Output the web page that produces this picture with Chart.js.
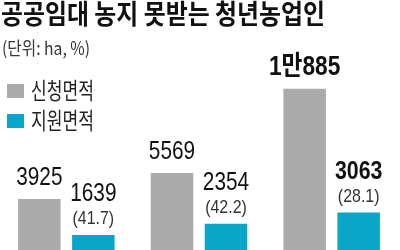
<!DOCTYPE html>
<html>
<head>
<meta charset="utf-8">
<script src="https://cdn.jsdelivr.net/npm/chart.js@4.4.1/dist/chart.umd.min.js"></script>
<style>
  html, body { margin: 0; padding: 0; background: #fff; width: 400px; height: 250px; overflow: hidden; }
  #wrap { position: relative; width: 400px; height: 261px; }
</style>
</head>
<body>
<div id="wrap"><canvas id="c"></canvas></div>
<script>
// ---- data ----
const categories = ['1', '2', '3'];
const appliedArea = [3925, 5569, 10885];      // 신청면적 (ha)
const supportedArea = [1639, 2354, 3063];     // 지원면적 (ha)
const supportRate = [41.7, 42.2, 28.1];       // 지원 비율 (%)
const appliedLabels = ['3925', '5569', '1만885'];
const supportedLabels = ['1639', '2354', '3063'];
const boldGroup = [false, false, true];
const seriesNames = ['신청면적', '지원면적'];
const titleText = '공공임대 농지 못받는 청년농업인';
const unitText = '(단위: ha, %)';

const GRAY = '#aaaaaa';
const TEAL = '#0aa6c9';

function drawText(ctx, text, x, y, font, color, align, sx, targetW) {
  ctx.save();
  ctx.font = font;
  ctx.fillStyle = color;
  ctx.textBaseline = 'alphabetic';
  ctx.textAlign = align;
  const w = ctx.measureText(text).width;
  const s = targetW ? targetW / w : sx;
  ctx.translate(x, y);
  ctx.scale(s, 1);
  ctx.fillText(text, 0, 0);
  ctx.restore();
}

const NUMFONT = '"Liberation Sans", "Noto Sans CJK KR", Arial, sans-serif';
const KRFONT = '"Noto Sans CJK KR", "Noto Sans", sans-serif';

const labelPlugin = {
  id: 'labels',
  afterDatasetsDraw(chart) {
    const ctx = chart.ctx;
    const m0 = chart.getDatasetMeta(0);
    const m1 = chart.getDatasetMeta(1);
    m0.data.forEach((bar, i) => {
      const f = boldGroup[i] ? 'bold 27px ' + NUMFONT : '26px ' + NUMFONT;
      drawText(ctx, appliedLabels[i], bar.x, bar.y - 14, f, '#111', 'center', boldGroup[i] ? 0.84 : 0.8);
    });
    m1.data.forEach((bar, i) => {
      const f = boldGroup[i] ? 'bold 26px ' + NUMFONT : '26px ' + NUMFONT;
      drawText(ctx, supportedLabels[i], bar.x, bar.y - 34, f, '#111', 'center', boldGroup[i] ? 0.82 : 0.8);
      drawText(ctx, '(' + supportRate[i].toFixed(1) + ')', bar.x, bar.y - 11,
        '19px ' + NUMFONT, '#333', 'center', 0.84);
    });
    // title + unit
    drawText(ctx, titleText, 1, 24, 'bold 27px ' + KRFONT, '#111', 'left', 1, 324);
    drawText(ctx, unitText, 2, 55, '18px ' + KRFONT, '#333', 'left', 1, 88);
    // legend
    const items = [[GRAY, 84], [TEAL, 114]];
    items.forEach((it, k) => {
      ctx.save();
      ctx.fillStyle = it[0];
      ctx.fillRect(7, it[1], 17, 14);
      ctx.restore();
      drawText(ctx, seriesNames[k], 31, it[1] + 15, '23px ' + KRFONT, '#222', 'left', 1, 63);
    });
  }
};

new Chart(document.getElementById('c'), {
  type: 'bar',
  data: {
    labels: categories,
    datasets: [
      { label: seriesNames[0], data: appliedArea, backgroundColor: GRAY,
        categoryPercentage: 0.814, barPercentage: 0.787 },
      { label: seriesNames[1], data: supportedArea, backgroundColor: TEAL,
        categoryPercentage: 0.814, barPercentage: 0.787 }
    ]
  },
  options: {
    responsive: true,
    maintainAspectRatio: false,
    animation: false,
    layout: { padding: { left: 0, right: 2, top: 0, bottom: 0 } },
    scales: {
      x: { display: false },
      y: { display: false, min: 0, max: 16500 }
    },
    plugins: {
      legend: { display: false },
      title: { display: false },
      tooltip: { enabled: false }
    }
  },
  plugins: [labelPlugin]
});
</script>
</body>
</html>
